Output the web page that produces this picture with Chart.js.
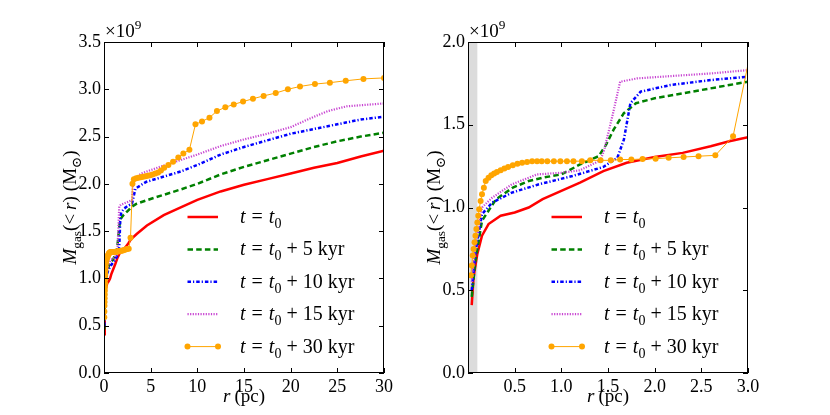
<!DOCTYPE html>
<html>
<head>
<meta charset="utf-8">
<script src="https://cdn.jsdelivr.net/npm/chart.js@4.4.1/dist/chart.umd.min.js"></script>
<style>
  body { margin: 0; background: #fff; }
  #wrap { position: relative; width: 830px; height: 415px; }
  canvas { position: absolute; top: 0; }
</style>
</head>
<body>
<div id="wrap">
  <canvas id="leftChart" width="415" height="415" style="left:0"></canvas>
  <canvas id="rightChart" width="415" height="415" style="left:415px"></canvas>
</div>
<script>
// radius r (pc) and enclosed gas mass (units of 1e9 Msun), one pair of arrays per snapshot
const rT0 = [0.04, 0.06, 0.1, 0.15, 0.22, 0.35, 0.5, 0.65, 0.8, 1.0, 1.2, 1.45, 1.7, 2.0, 2.3, 2.6, 2.8, 3.0, 3.5, 4.6, 6.4, 8.4, 10, 12.5, 15, 17.5, 20, 22.5, 25, 27.5, 30];
const mT0 = [0.41, 0.58, 0.72, 0.83, 0.90, 0.95, 0.97, 1.0, 1.05, 1.10, 1.15, 1.22, 1.27, 1.305, 1.33, 1.37, 1.40, 1.425, 1.47, 1.56, 1.67, 1.76, 1.83, 1.92, 1.99, 2.05, 2.11, 2.17, 2.22, 2.29, 2.35];

const rT5 = [0.04, 0.08, 0.15, 0.3, 0.48, 0.65, 0.8, 1.0, 1.2, 1.4, 1.48, 1.56, 1.67, 1.8, 2.0, 2.2, 2.5, 2.8, 3.0, 3.5, 5.3, 8.2, 10, 12.5, 15, 17.5, 20, 22.5, 25, 27.5, 30];
const mT5 = [0.46, 0.68, 0.92, 1.05, 1.12, 1.16, 1.18, 1.20, 1.26, 1.31, 1.38, 1.47, 1.57, 1.63, 1.66, 1.68, 1.71, 1.74, 1.76, 1.79, 1.85, 1.94, 2.00, 2.10, 2.18, 2.25, 2.32, 2.39, 2.45, 2.50, 2.54];

const rT10 = [0.04, 0.08, 0.15, 0.26, 0.47, 0.76, 1.12, 1.45, 1.6, 1.67, 1.74, 1.85, 2.17, 2.6, 3.0, 3.37, 4.5, 8.2, 10, 12.5, 15, 17.5, 20, 22.5, 25, 27.5, 30];
const mT10 = [0.5, 0.73, 0.96, 1.03, 1.09, 1.14, 1.19, 1.245, 1.30, 1.41, 1.63, 1.70, 1.74, 1.77, 1.79, 1.95, 2.02, 2.13, 2.20, 2.31, 2.39, 2.46, 2.53, 2.58, 2.63, 2.68, 2.71];

const rT15 = [0.04, 0.08, 0.15, 0.26, 0.47, 0.74, 1.0, 1.2, 1.42, 1.46, 1.55, 1.63, 1.81, 2.2, 2.6, 3.0, 3.15, 4, 6, 10, 12.5, 15, 17.5, 20, 22.5, 24, 26, 30];
const mT15 = [0.55, 0.78, 1.0, 1.06, 1.14, 1.20, 1.21, 1.225, 1.285, 1.35, 1.56, 1.76, 1.78, 1.795, 1.81, 1.83, 2.05, 2.11, 2.18, 2.31, 2.40, 2.47, 2.53, 2.60, 2.71, 2.77, 2.82, 2.85];

const rT30 = [0.03, 0.04, 0.05, 0.06, 0.07, 0.08, 0.09, 0.10, 0.11, 0.12, 0.135, 0.15, 0.17, 0.19, 0.22, 0.25, 0.28, 0.31, 0.35, 0.39, 0.43, 0.48, 0.53, 0.58, 0.633, 0.687, 0.74, 0.79, 0.85, 0.92, 0.99, 1.06, 1.13, 1.22, 1.31, 1.42, 1.53, 1.63, 1.75, 1.87, 2.01, 2.15, 2.31, 2.47, 2.65, 2.84,
  3.05, 3.2, 3.45, 3.7, 3.95, 4.2, 4.45, 4.7, 4.95, 5.2, 5.5, 5.8, 6.1, 6.45, 6.9, 7.4, 7.96, 8.5, 9.15, 9.8, 10.5, 11.3, 12.1, 13.0, 13.9, 14.9, 15.96, 17.1, 18.4, 19.7, 21.0, 22.6, 24.2, 25.9, 27.8, 30];
const mT30 = [0.59, 0.65, 0.71, 0.75, 0.79, 0.83, 0.87, 0.91, 0.95, 0.99, 1.04, 1.08, 1.12, 1.16, 1.18, 1.195, 1.205, 1.215, 1.225, 1.235, 1.245, 1.255, 1.265, 1.27, 1.275, 1.28, 1.28, 1.28, 1.28, 1.28, 1.28, 1.28, 1.28, 1.28, 1.285, 1.285, 1.285, 1.29, 1.29, 1.293, 1.295, 1.30, 1.305, 1.31, 1.315, 1.43,
  2.0, 2.05, 2.06, 2.065, 2.07, 2.075, 2.08, 2.085, 2.09, 2.10, 2.11, 2.12, 2.14, 2.17, 2.20, 2.235, 2.28, 2.32, 2.36, 2.63, 2.66, 2.70, 2.77, 2.81, 2.84, 2.87, 2.90, 2.93, 2.96, 3.0, 3.03, 3.055, 3.07, 3.09, 3.11, 3.12];

const delays = ['', '5', '10', '15', '30']; // kyr after t0

const leftXTicks = [0, 5, 10, 15, 20, 25, 30];
const leftYTicks = [0, 0.5, 1.0, 1.5, 2.0, 2.5, 3.0, 3.5];
const rightXTicks = [0.5, 1.0, 1.5, 2.0, 2.5, 3.0];
const rightYTicks = [0, 0.5, 1.0, 1.5, 2.0];

const FAM = '"Liberation Serif", "DejaVu Serif", serif';
const FS = 18;

Chart.defaults.font.family = FAM;
Chart.defaults.font.size = FS;
Chart.defaults.color = '#000';

const styles = [
  { color: '#ff0000', width: 2.5, dash: [] },
  { color: '#008000', width: 2.5, dash: [5.5, 3.2] },
  { color: '#0000ff', width: 2.5, dash: [3.5, 2, 1.2, 2] },
  { color: '#c845d2', width: 2.2, dash: [1.2, 1.4] },
  { color: '#ffa500', width: 1, dash: [], marker: true }
];

function makeDatasets() {
  const rs = [rT0, rT5, rT10, rT15, rT30];
  const ms = [mT0, mT5, mT10, mT15, mT30];
  return rs.map((r, i) => ({
    label: delays[i] ? 't = t0 + ' + delays[i] + ' kyr' : 't = t0',
    data: r.map((v, j) => ({ x: v, y: ms[i][j] })),
    borderColor: styles[i].color,
    backgroundColor: styles[i].color,
    borderWidth: styles[i].width,
    borderDash: styles[i].dash,
    pointRadius: styles[i].marker ? 3 : 0,
    pointBorderWidth: 0,
    tension: 0,
    order: 5 - i
  }));
}

// draws a row of text pieces: [text, 'i' | 'r' | 'sub' | 'sup' | 'gap', gapWidth]
function drawParts(ctx, parts, x, y, size, align) {
  const fontFor = p => {
    const s = (p[1] === 'sub' || p[1] === 'sup') ? size * 0.7 : size;
    return (p[1] === 'i' ? 'italic ' : '') + s + 'px ' + FAM;
  };
  const widthOf = p => {
    if (p[1] === 'gap') return p[2];
    ctx.font = fontFor(p);
    return ctx.measureText(p[0]).width;
  };
  let total = 0;
  parts.forEach(p => { total += widthOf(p); });
  let cx = align === 'center' ? x - total / 2 : x;
  ctx.textAlign = 'left';
  ctx.textBaseline = 'alphabetic';
  parts.forEach(p => {
    const w = widthOf(p);
    if (p[1] !== 'gap') {
      ctx.font = fontFor(p);
      const dy = p[1] === 'sub' ? size * 0.25 : (p[1] === 'sup' ? -size * 0.42 : 0);
      ctx.fillText(p[0], cx, y + dy);
    }
    cx += w;
  });
}

const panelPlugin = {
  id: 'panel',
  beforeDatasetsDraw(chart, args, opts) {
    const { ctx, chartArea: a, scales: { x } } = chart;
    if (opts.band) {
      ctx.save();
      ctx.fillStyle = '#dcdcdc';
      const x1 = x.getPixelForValue(opts.band);
      ctx.fillRect(a.left, a.top, x1 - a.left, a.bottom - a.top);
      ctx.restore();
    }
  },
  afterDraw(chart, args, opts) {
    const { ctx, chartArea: a, scales: { x, y } } = chart;
    ctx.save();
    ctx.fillStyle = '#000';
    ctx.strokeStyle = '#000';
    ctx.lineWidth = 1;
    ctx.setLineDash([]);
    ctx.strokeRect(a.left + 0.5, a.top + 0.5, a.right - a.left - 1, a.bottom - a.top - 1);

    // inward tick marks on all four sides
    const tl = 5;
    ctx.beginPath();
    x.ticks.forEach(t => {
      const px = Math.round(x.getPixelForValue(t.value)) + 0.5;
      ctx.moveTo(px, a.bottom); ctx.lineTo(px, a.bottom - tl);
      ctx.moveTo(px, a.top); ctx.lineTo(px, a.top + tl);
    });
    y.ticks.forEach(t => {
      const py = Math.round(y.getPixelForValue(t.value)) + 0.5;
      ctx.moveTo(a.left, py); ctx.lineTo(a.left + tl, py);
      ctx.moveTo(a.right, py); ctx.lineTo(a.right - tl, py);
    });
    ctx.stroke();

    // offset text above the y axis
    drawParts(ctx, [['\u00d710', 'r'], ['9', 'sup']], a.left + 1, a.top - 5, 19, 'left');

    // axis titles
    drawParts(ctx, [['r', 'i'], ['', 'gap', 4], ['(pc)', 'r']], (a.left + a.right) / 2, 402, 19, 'center');
    ctx.save();
    ctx.translate(a.left - 28, (a.top + a.bottom) / 2);
    ctx.rotate(-Math.PI / 2);
    drawParts(ctx, [['M', 'i'], ['gas', 'sub'], ['(', 'r'], ['<', 'r'], ['', 'gap', 4], ['r', 'i'], [')', 'r'], ['', 'gap', 5], ['(M', 'r'], ['\u2299', 'sub'], [')', 'r']], 0, 0, 19, 'center');
    ctx.restore();

    // legend inside the axes
    const LS = 20;
    chart.data.datasets.forEach((ds, i) => {
      const cy = a.top + 175 + i * 32.4;
      const x1 = a.left + 83.5, x2 = a.left + 114;
      ctx.save();
      ctx.strokeStyle = ds.borderColor;
      ctx.lineWidth = ds.borderWidth;
      ctx.setLineDash(ds.borderDash);
      ctx.beginPath();
      ctx.moveTo(x1, cy); ctx.lineTo(x2, cy);
      ctx.stroke();
      if (ds.pointRadius) {
        ctx.fillStyle = ds.borderColor;
        [x1, x2].forEach(px => { ctx.beginPath(); ctx.arc(px, cy, 3, 0, Math.PI * 2); ctx.fill(); });
      }
      ctx.restore();
      const parts = [['t', 'i'], ['', 'gap', 6], ['=', 'r'], ['', 'gap', 6], ['t', 'i'], ['0', 'sub']];
      if (delays[i]) {
        parts.push(['', 'gap', 5], ['+', 'r'], ['', 'gap', 5], [delays[i], 'r'], ['', 'gap', 5], ['kyr', 'r']);
      }
      drawParts(ctx, parts, a.left + 136, cy + 6, LS, 'left');
    });
    ctx.restore();
  }
};

function makeChart(id, xMax, yMax, xTicks, yTicks, yWidth, pad, band) {
  return new Chart(document.getElementById(id), {
    type: 'line',
    data: { datasets: makeDatasets() },
    options: {
      responsive: false,
      animation: false,
      layout: { padding: pad },
      plugins: {
        legend: { display: false },
        tooltip: { enabled: false },
        panel: { band: band }
      },
      scales: {
        x: {
          type: 'linear',
          min: 0,
          max: xMax,
          grid: { display: false, drawTicks: false },
          border: { display: false },
          afterBuildTicks: s => { s.ticks = xTicks.map(v => ({ value: v })); },
          afterFit: s => { s.height = 42; },
          ticks: {
            autoSkip: false,
            maxRotation: 0,
            padding: 3,
            callback: v => xMax > 5 ? String(v) : v.toFixed(1)
          }
        },
        y: {
          type: 'linear',
          min: 0,
          max: yMax,
          grid: { display: false, drawTicks: false },
          border: { display: false },
          afterBuildTicks: s => { s.ticks = yTicks.map(v => ({ value: v })); },
          afterFit: s => { s.width = yWidth; },
          ticks: {
            autoSkip: false,
            padding: 3,
            callback: v => v.toFixed(1)
          }
        }
      }
    },
    plugins: [panelPlugin]
  });
}

makeChart('leftChart', 30, 3.5, leftXTicks, leftYTicks, 60, { left: 44, right: 31, top: 42, bottom: 0 }, null);
makeChart('rightChart', 3, 2.0, rightXTicks, rightYTicks, 50, { left: 3, right: 82, top: 42, bottom: 0 }, 0.1);
</script>
</body>
</html>
